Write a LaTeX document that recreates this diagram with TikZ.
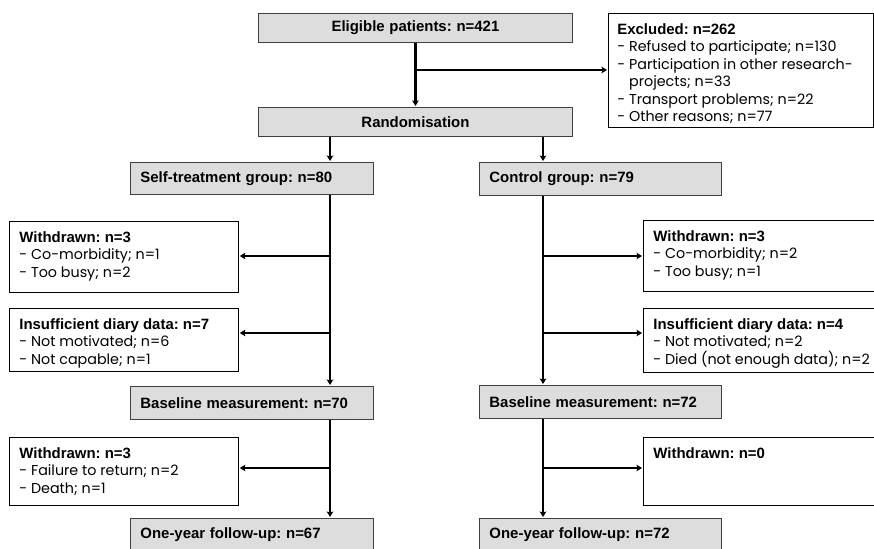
\documentclass[tikz,border=0pt]{standalone}
\usepackage{fontspec}
\setmainfont{Poppins}
\newfontfamily\headfont{Liberation Sans}[Scale = 1.045]
\usepackage{xcolor}
\usetikzlibrary{arrows.meta}
\definecolor{boxgray}{HTML}{DDDDDD}
\newcommand{\boxhead}[1]{{\headfont\bfseries #1}}

\tikzset{
    graybox/.style = {fill = boxgray, draw = black!75, rectangle, line width = 0.9pt, anchor = north west, inner xsep = 10pt, inner ysep = 0pt, align = left},
    notebox/.style = {draw, rectangle, line width = 0.8pt, anchor = north west, inner xsep = 10pt, inner ysep = 10pt},
    flow/.style = {-{Stealth[length = 5.5pt, width = 6.5pt, inset = 1pt]}, line width = 2.2pt, shorten > = 1pt}
}

\begin{document}
\frenchspacing
\begin{tikzpicture}[font = \fontsize{14.3pt}{17.5pt}\selectfont]

        \useasboundingbox (0pt, 0pt) rectangle (874pt, -548pt);
        \clip (0pt, 0pt) rectangle (874pt, -548pt);

        % Top
        \node [graybox, align = center, text width = 294pt, minimum height = 29pt] (elig) at (258pt, -13pt) {\boxhead{Eligible patients: n=421}};
        \node [graybox, align = center, text width = 294pt, minimum height = 29pt] (rand) at (258pt, -107pt) {\boxhead{Randomisation}};
        \node [notebox, inner xsep = 9pt] (excl) at (608pt, -13pt) {\parbox[t][94pt][t]{247pt}{\raggedright\boxhead{Excluded: n=262}\\
            - Refused to participate; n=130\\
            - Participation in other research-\\
            \hphantom{-} projects; n=33\\
            - Transport problems; n=22\\
            - Other reasons; n=77}};

        % Groups
        \node [graybox, text width = 223pt, minimum height = 32pt] (self) at (130pt, -162pt) {\boxhead{Self-treatment group: n=80}};
        \node [graybox, text width = 222pt, minimum height = 33pt] (ctrl) at (479pt, -162pt) {\boxhead{Control group: n=79}};

        \node [notebox] (wdA) at (9pt, -221pt) {\parbox[t][51pt][t]{209pt}{\raggedright\boxhead{Withdrawn: n=3}\\
            - Co-morbidity; n=1\\
            - Too busy; n=2}};
        \node [notebox] (insA) at (9pt, -308pt) {\parbox[t][43pt][t]{209pt}{\raggedright\boxhead{Insufficient diary data: n=7}\\
            - Not motivated; n=6\\
            - Not capable; n=1}};
        \node [notebox] (wdB) at (643pt, -220pt) {\parbox[t][51pt][t]{240pt}{\raggedright\boxhead{Withdrawn: n=3}\\
            - Co-morbidity; n=2\\
            - Too busy; n=1}};
        \node [notebox] (insB) at (643pt, -308pt) {\parbox[t][44pt][t]{240pt}{\raggedright\boxhead{Insufficient diary data: n=4}\\
            - Not motivated; n=2\\
            - Died (not enough data); n=2}};

        \node [graybox, text width = 223pt, minimum height = 33pt] (baseA) at (130pt, -386pt) {\boxhead{Baseline measurement: n=70}};
        \node [graybox, text width = 222pt, minimum height = 33pt] (baseB) at (479pt, -385pt) {\boxhead{Baseline measurement: n=72}};

        \node [notebox] (wdA2) at (9pt, -437pt) {\parbox[t][48pt][t]{209pt}{\raggedright\boxhead{Withdrawn: n=3}\\
            - Failure to return; n=2\\
            - Death; n=1}};
        \node [notebox] (wdB2) at (643pt, -437pt) {\parbox[t][48pt][t]{240pt}{\boxhead{Withdrawn: n=0}}};

        \node [graybox, text width = 223pt, minimum height = 32pt] (fuA) at (130pt, -518pt) {\boxhead{One-year follow-up: n=67}};
        \node [graybox, text width = 222pt, minimum height = 32pt] (fuB) at (479pt, -518pt) {\boxhead{One-year follow-up: n=72}};

        % Trunks and branch points
        \coordinate (lt) at (330pt, 0pt);
        \coordinate (rt) at (543pt, 0pt);
        \coordinate (ex) at (415pt, -70pt);
        \coordinate (bA1) at (330pt, -256pt);
        \coordinate (bA2) at (330pt, -333pt);
        \coordinate (bA3) at (330pt, -468pt);
        \coordinate (bB1) at (543pt, -256pt);
        \coordinate (bB2) at (543pt, -333pt);
        \coordinate (bB3) at (543pt, -468pt);

        % Down
        \draw [flow] (elig.south) -- (rand.north);
        \draw [flow] (rand.south -| lt) -- (self.north -| lt);
        \draw [flow] (rand.south -| rt) -- (ctrl.north -| rt);
        \draw [flow] (self.south -| lt) -- (baseA.north -| lt);
        \draw [flow] (ctrl.south -| rt) -- (baseB.north -| rt);
        \draw [flow] (baseA.south -| lt) -- (fuA.north -| lt);
        \draw [flow] (baseB.south -| rt) -- (fuB.north -| rt);

        % Sideways
        \draw [flow] (ex) -- (excl.west |- ex);
        \draw [flow] (bA1) -- (wdA.east |- bA1);
        \draw [flow] (bA2) -- (insA.east |- bA2);
        \draw [flow] (bA3) -- (wdA2.east |- bA3);
        \draw [flow] (bB1) -- (wdB.west |- bB1);
        \draw [flow] (bB2) -- (insB.west |- bB2);
        \draw [flow] (bB3) -- (wdB2.west |- bB3);

\end{tikzpicture}
\end{document}
